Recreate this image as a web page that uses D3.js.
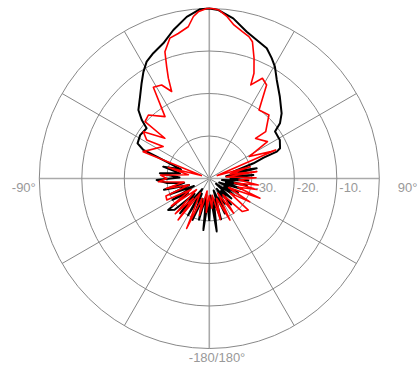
<!DOCTYPE html>
<html><head><meta charset="utf-8">
<script src="https://cdn.jsdelivr.net/npm/d3@7"></script>
<style>body{margin:0;background:#fff}svg{display:block}text{font-family:"Liberation Sans",Arial,sans-serif;font-size:13px;fill:#999}</style>
</head><body>
<script>
// Radial ticks (dB) and angular labels
const ringTicks = [-30, -20, -10];
const ringLabels = ["-30.", "-20.", "-10."];
const angleLabels = [
  {text: "-90°", angle: -90},
  {text: "90°", angle: 90},
  {text: "-180/180°", angle: 180}
];
// Black series: angle (deg), level (dB)
const blackAngles = [-180,-176,-173.4,-170,-166,-162,-158,-154,-150,-146,-140,-136,-132,-127.5,-124,-120,-116,-112,-108,-104,-100,-96,-91.6,-88,-84,-80,-75.6,-72,-67.5,-66.6,-63.9,-57.9,-51.3,-49.1,-46,-40.3,-35.4,-31.7,-28.2,-24.1,-18.8,-13.6,-7.95,-3.1,0,3.1,8.5,14.3,18.9,23.8,27.4,30.4,34.4,40.8,48,52,54.5,61.4,66.9,68.3,69,71,74,77.9,82,85.5,90,93,97,100,104,108,112,116,120,124,128,132,136,140,144,148,152,156,160,164,168,172,176,180];
const blackDb = [-30,-34,-27.8,-36,-30,-35,-29.5,-36,-30,-37,-29.3,-35,-29,-27.8,-34,-30,-36,-30,-35,-29,-34,-30,-27.6,-33,-28.3,-33,-28.8,-33,-26.6,-23.1,-21.2,-20.8,-21.1,-19.0,-16.8,-14.8,-12.5,-10.5,-8.8,-7.7,-6.4,-4.05,-1.6,-0.1,0,-0.3,-1.9,-4.35,-5.55,-6.5,-8.1,-9.5,-11.9,-14.6,-17.1,-18.9,-21.0,-21.1,-21.9,-22.9,-26.3,-29.0,-34,-28.6,-36,-29.6,-35,-30.8,-37,-31,-36,-32,-37.5,-32.5,-36,-33,-38,-33,-36,-32,-37,-33,-35,-31,-37,-30,-35,-27.4,-36,-30];
// Red series: angle (deg), level (dB)
const redAngles = [-180,-175,-170,-165,-160,-155.6,-148,-143,-141,-136,-131,-126,-121,-116.8,-112,-108,-103,-98,-93.6,-90,-86,-80,-75,-70,-67.9,-55.3,-58.4,-54.7,-47.8,-48.5,-43.8,-35.6,-31.5,-27,-23.4,-22.2,-20.9,-19.3,-15.7,-12.1,-7.9,-5.6,-3.8,-0.9,1,3.3,6.3,9.1,12.7,15.6,17.5,20.4,23,23.9,27.9,31.5,36,43.2,50.3,49.1,57.6,61.2,66.4,66.8,70,74,78,81.8,85,89,93,97.6,100,103,107,111.3,115,120,125,129,135,140,145,150,153.5,160,165,170,175,180];
const redDb = [-36,-32,-37,-31,-35,-27.1,-36,-27.8,-34,-28.5,-36,-29,-35,-28.8,-29,-35,-29.6,-34,-28,-30,-28.5,-35,-30,-38,-23.2,-26.8,-22.7,-21,-25.9,-19.8,-19.3,-22.1,-14.8,-15.3,-17.7,-14.5,-11.9,-8.4,-5.7,-5.1,-3.95,-1.7,-0.7,0,0,-0.3,-1.7,-3.4,-4.6,-5.35,-6.25,-9.8,-13.1,-15.9,-13.3,-14.2,-20.1,-19.5,-22.75,-25.6,-23.8,-29.3,-24.2,-23,-38,-30,-35,-28.7,-36,-29,-33,-28.4,-34,-28.5,-33,-27.2,-35,-29,-34,-28.2,-29,-35,-30,-36,-29.1,-35,-30,-36,-33,-36];

const W = 419, H = 366, cx = 209.3, cy = 178.5, R = 170;
const r = d3.scaleLinear().domain([-40, 0]).range([0, R]).clamp(true);
const svg = d3.select("body").append("svg").attr("width", W).attr("height", H);
const g = svg.append("g").attr("transform", `translate(${cx},${cy})`);

// spokes every 30 deg (excluding main axes)
const spokes = d3.range(0, 360, 30).filter(a => a % 90 !== 0);
g.selectAll("line.spoke").data(spokes).join("line")
  .attr("x1", 0).attr("y1", 0)
  .attr("x2", a => R * Math.sin(a * Math.PI / 180))
  .attr("y2", a => -R * Math.cos(a * Math.PI / 180))
  .attr("stroke", "#666").attr("stroke-width", 0.8);
// main axes
g.selectAll("line.axis").data([0, 90]).join("line")
  .attr("x1", a => -R * Math.sin(a * Math.PI / 180)).attr("y1", a => R * Math.cos(a * Math.PI / 180))
  .attr("x2", a => R * Math.sin(a * Math.PI / 180)).attr("y2", a => -R * Math.cos(a * Math.PI / 180))
  .attr("stroke", "#aaa").attr("stroke-width", 1.6);
// rings
g.selectAll("circle.ring").data([...ringTicks, 0]).join("circle")
  .attr("r", d => r(d)).attr("fill", "none").attr("stroke", "#888").attr("stroke-width", 1);

const line = d3.lineRadial()
  .angle(d => d[0] * Math.PI / 180)
  .radius(d => r(d[1]));
g.append("path").datum(blackAngles.map((a, i) => [a, blackDb[i]]))
  .attr("d", line).attr("fill", "none").attr("stroke", "#000").attr("stroke-width", 2).attr("stroke-linejoin", "round");
g.append("path").datum(redAngles.map((a, i) => [a, redDb[i]]))
  .attr("d", line).attr("fill", "none").attr("stroke", "#f00").attr("stroke-width", 1.6).attr("stroke-linejoin", "round");

// ring labels
g.selectAll("text.ring").data(ringTicks).join("text")
  .attr("x", d => r(d) + 2.5).attr("y", 13.5)
  .text((d, i) => ringLabels[i]);
// angle labels
g.append("text").attr("x", -R - 27.5).attr("y", 13.5).text(angleLabels[0].text);
g.append("text").attr("x", R + 18.5).attr("y", 13.5).text(angleLabels[1].text);
g.append("text").attr("x", -20.5).attr("y", R + 13.5).text(angleLabels[2].text);
</script>
</body></html>
